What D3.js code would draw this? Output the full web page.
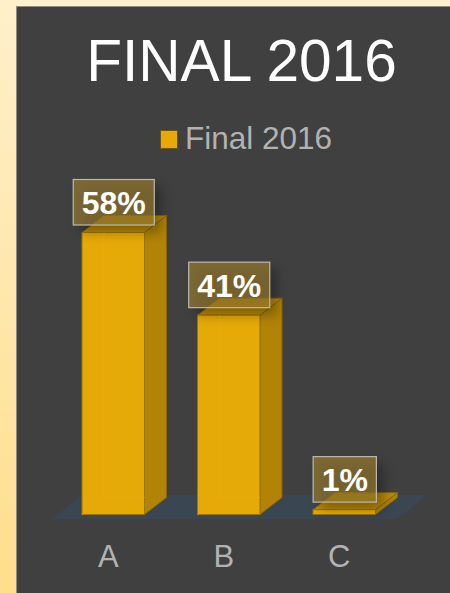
<!DOCTYPE html>
<html>
<head>
<meta charset="utf-8">
<style>
html, body { margin: 0; padding: 0; width: 450px; height: 593px; overflow: hidden; }
svg { display: block; font-family: "Liberation Sans", Arial, sans-serif; }
</style>
<script src="https://cdn.jsdelivr.net/npm/d3@7"></script>
</head>
<body>
<svg id="chart" width="450" height="593"></svg>
<script>
const categories = ["A", "B", "C"];
const values = [58, 41, 1];
const seriesName = "Final 2016";
const chartTitle = "FINAL 2016";

const svg = d3.select("#chart");
const defs = svg.append("defs");

const pageGrad = defs.append("linearGradient").attr("id", "page")
  .attr("x1", 0).attr("y1", 0).attr("x2", 0).attr("y2", 1);
pageGrad.append("stop").attr("offset", 0).attr("stop-color", "#fff0cb");
pageGrad.append("stop").attr("offset", 1).attr("stop-color", "#ffde8c");

const labelShadow = defs.append("filter").attr("id", "labelShadow")
  .attr("x", "-40%").attr("y", "-40%").attr("width", "190%").attr("height", "190%");
labelShadow.append("feGaussianBlur").attr("stdDeviation", 6);

svg.append("rect").attr("width", 450).attr("height", 593).attr("fill", "url(#page)");
svg.append("rect").attr("x", 16.5).attr("y", 6.5).attr("width", 460).attr("height", 620)
  .attr("fill", "#404040").attr("stroke", "#8f8b84").attr("stroke-width", 1);

// Chart title and legend
svg.append("text").attr("x", 241.5).attr("y", 81).attr("text-anchor", "middle")
  .attr("font-size", 58.6).attr("fill", "#ffffff").text(chartTitle);

svg.append("rect").attr("x", 160.5).attr("y", 130.5).attr("width", 17).attr("height", 18)
  .attr("fill", "#e6a908").attr("stroke", "#6f5512").attr("stroke-width", 1);
svg.append("text").attr("x", 185).attr("y", 149)
  .attr("font-size", 31.5).attr("fill", "#b2b2b2").text(seriesName);

// Scales: one band per category, linear height above the floor
const baseY = 514.5;
const depthX = 22;
const depthY = 17;
const x = d3.scaleBand().domain(categories).range([55.5, 402])
  .paddingInner(0.459).paddingOuter(0.2295);
const y = d3.scaleLinear().domain([0, 58]).range([baseY, 232.5]);

// Floor parallelogram
const floorLeft = x.range()[0] - 3.5;
const floorRight = x.range()[1] - 5;
const floorFront = baseY + 4.5;
const floorBack = baseY - 19.5;
svg.append("path")
  .attr("d", d3.line()([
    [floorLeft, floorFront],
    [floorLeft + 30, floorBack],
    [floorRight + 30, floorBack],
    [floorRight, floorFront]
  ]) + "Z")
  .attr("fill", "#3b4653");

// Bars as three visible faces of a box
const bars = svg.append("g").selectAll("g")
  .data(values.map((v, i) => ({ value: v, cat: categories[i] })))
  .join("g");

const line = d3.line();
const edge = "#8a6607";

bars.append("path") // side
  .attr("d", d => {
    const l = x(d.cat) + x.bandwidth(), t = y(d.value);
    return line([[l, t], [l + depthX, t - depthY], [l + depthX, baseY - depthY], [l, baseY]]) + "Z";
  })
  .attr("fill", "#b18307").attr("stroke", edge).attr("stroke-width", 1);

bars.append("path") // top
  .attr("d", d => {
    const l = x(d.cat), r = l + x.bandwidth(), t = y(d.value);
    return line([[l, t], [l + depthX, t - depthY], [r + depthX, t - depthY], [r, t]]) + "Z";
  })
  .attr("fill", "#bb8b06").attr("stroke", edge).attr("stroke-width", 1);

bars.append("rect") // front
  .attr("x", d => x(d.cat))
  .attr("y", d => y(d.value))
  .attr("width", x.bandwidth())
  .attr("height", d => baseY - y(d.value))
  .attr("fill", "#e5a908").attr("stroke", "#9c7506").attr("stroke-width", 1);

// Rear edges showing faintly through the translucent front face
bars.filter(d => y(d.value) < baseY - depthY).append("path")
  .attr("d", d => {
    const l = x(d.cat), r = l + x.bandwidth(), t = y(d.value);
    return line([[l + depthX, t], [l + depthX, baseY - depthY], [l, baseY]]) +
      "M" + (l + depthX) + "," + (baseY - depthY) + "L" + r + "," + (baseY - depthY);
  })
  .attr("fill", "none").attr("stroke", "#eeac02").attr("stroke-width", 1);

// Category axis, its labels set slightly left of the bars
const axis = svg.append("g")
  .attr("transform", `translate(-5,${baseY + 30})`)
  .call(d3.axisBottom(x).tickSize(0).tickPadding(0));
axis.select(".domain").remove();
axis.selectAll("text")
  .attr("font-family", '"Liberation Sans", Arial, sans-serif')
  .attr("font-size", 31)
  .attr("fill", "#b2b2b2");

// Value labels in translucent boxes
const labels = svg.append("g").selectAll("g")
  .data(values.map((v, i) => ({ value: v, cat: categories[i] })))
  .join("g")
  .attr("transform", d => `translate(${x(d.cat) + x.bandwidth() / 2 + 0.5},${y(d.value) - 30})`);

labels.append("text")
  .attr("text-anchor", "middle").attr("y", 11.5)
  .attr("font-size", 32).attr("font-weight", "bold").attr("fill", "#ffffff")
  .text(d => d.value + "%");

labels.each(function () {
  const g = d3.select(this);
  const w = g.select("text").node().getComputedTextLength() + 17;
  g.insert("rect", "text")
    .attr("x", -w / 2 + 7).attr("y", -16).attr("width", w).attr("height", 46)
    .attr("fill", "#000000").attr("opacity", 0.3).attr("filter", "url(#labelShadow)");
  g.insert("rect", "text")
    .attr("x", -w / 2).attr("y", -23).attr("width", w).attr("height", 45.5)
    .attr("fill", "#a2832f").attr("fill-opacity", 0.62)
    .attr("stroke", "#bdb9ac").attr("stroke-width", 1.2);
});
</script>
</body>
</html>
